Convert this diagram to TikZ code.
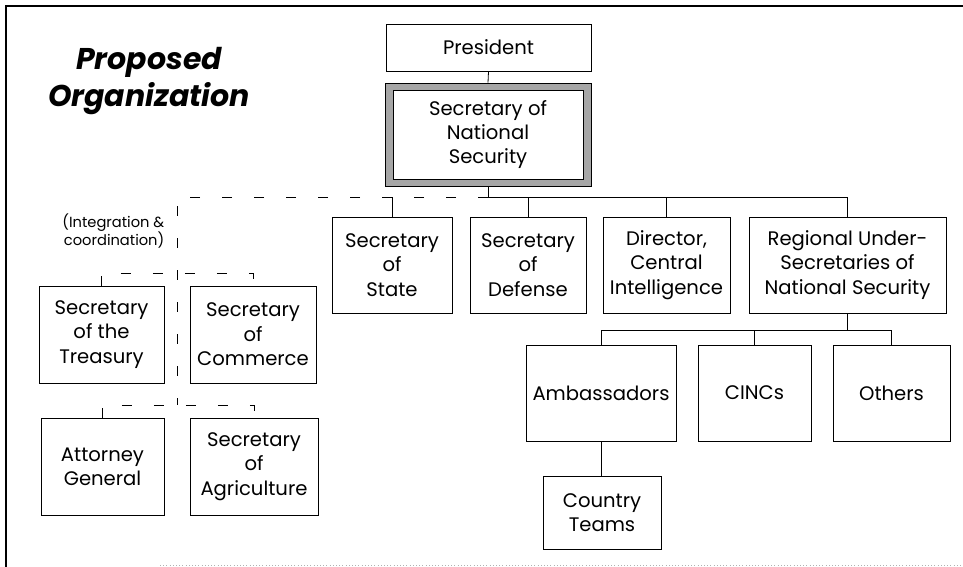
\documentclass[tikz,border=0pt]{standalone}
\usepackage{fontspec}
\setmainfont{Poppins}
\newcommand{\boxfont}{\fontsize{14.7}{18.3}\selectfont}
\tikzset{
  unit box/.style 2 args={draw, line width=.6pt, align=center, inner sep=0pt, font=\boxfont,
    minimum width=#1*0.75pt, minimum height=#2*0.75pt},
  link/.style={line width=.6pt},
  coord link/.style={line width=.7pt, dash pattern=on 7.5pt off 16.5pt},
}
\begin{document}
\begin{tikzpicture}[x=0.75pt,y=-0.75pt]
	\useasboundingbox (0,0) rectangle (963,567);
	% frame
	\draw[line width=1.6pt] (6,567) -- (6,6) -- (963,6);
	\draw[black!30, dotted] (160,565) -- (963,565);
	
	% title
	\node[font=\fontsize{22.5}{28}\selectfont\bfseries\itshape, align=center] (title) at (149,81) {Proposed\\Organization};
	
	% top of the chain
	\node[unit box={205}{47}] (pres) at (488.5,47.5) {President};
	\node[draw, line width=.6pt, fill=black!35, minimum width=206*0.75pt, minimum height=103*0.75pt] (snsframe) at (488,134.5) {};
	\node[unit box={190}{89}, fill=white] (sns) at (488,134.5) {Secretary of\\National\\Security};
	
	% second row
	\node[unit box={120}{96}] (state) at (392,265) {Secretary\\of\\State};
	\node[unit box={116}{96}] (defense) at (528,265) {Secretary\\of\\Defense};
	\node[unit box={127}{96}] (dci) at (666.5,265) {Director,\\Central\\Intelligence};
	\node[unit box={197}{96}] (regional) at (847.5,265) {Regional Under-\\Secretaries of\\National Security};
	
	% coordinated departments
	\node[unit box={125}{97}] (treasury) at (101.5,334.5) {Secretary\\of the\\Treasury};
	\node[unit box={126}{97}] (commerce) at (253,334.5) {Secretary\\of\\Commerce};
	\node[unit box={123}{97}] (attorney) at (102.5,466.5) {Attorney\\General};
	\node[unit box={128}{97}] (agriculture) at (254,466.5) {Secretary\\of\\Agriculture};
	\node[font=\fontsize{11}{14}\selectfont, align=right, anchor=east] (integ) at (169,231) {(Integration \&\\coordination)};
	
	% regional level
	\node[unit box={150}{96}] (amb) at (601,393) {Ambassadors};
	\node[unit box={113}{96}] (cincs) at (754.5,393) {CINCs};
	\node[unit box={117}{96}] (others) at (891.5,393) {Others};
	\node[unit box={118}{73}] (teams) at (602,512.5) {Country\\Teams};
	
	% command lines
	\coordinate (hub) at (snsframe.south |- 0,197);
	\draw[link] (pres.south) -- (snsframe.north);
	\draw[link] (snsframe.south) -- (hub) -- (regional.north |- hub) -- (regional.north);
	\foreach \n in {state,defense,dci}
		\draw[link] (\n.north |- hub) -- (\n.north);
	
	\coordinate (rbus) at (regional.south |- 0,330);
	\draw[link] (regional.south) -- (rbus);
	\draw[link] (amb.north) -- (amb.north |- rbus) -- (others.north |- rbus) -- (others.north);
	\draw[link] (cincs.north |- rbus) -- (cincs.north);
	\draw[link] (amb.south) -- (amb.south |- teams.north);
	
	% coordination lines
	\coordinate (corner) at (177,197);
	\coordinate (cross1) at (177,273);
	\coordinate (cross2) at (177,405);
	\draw[coord link] (hub) -- (corner) -- (cross2);
	\draw[coord link] (treasury.north) -- (treasury.north |- cross1) -- (commerce.north |- cross1) -- (commerce.north);
	\draw[coord link] (attorney.north) -- (attorney.north |- cross2) -- (agriculture.north |- cross2) -- (agriculture.north);
\end{tikzpicture}
\end{document}
